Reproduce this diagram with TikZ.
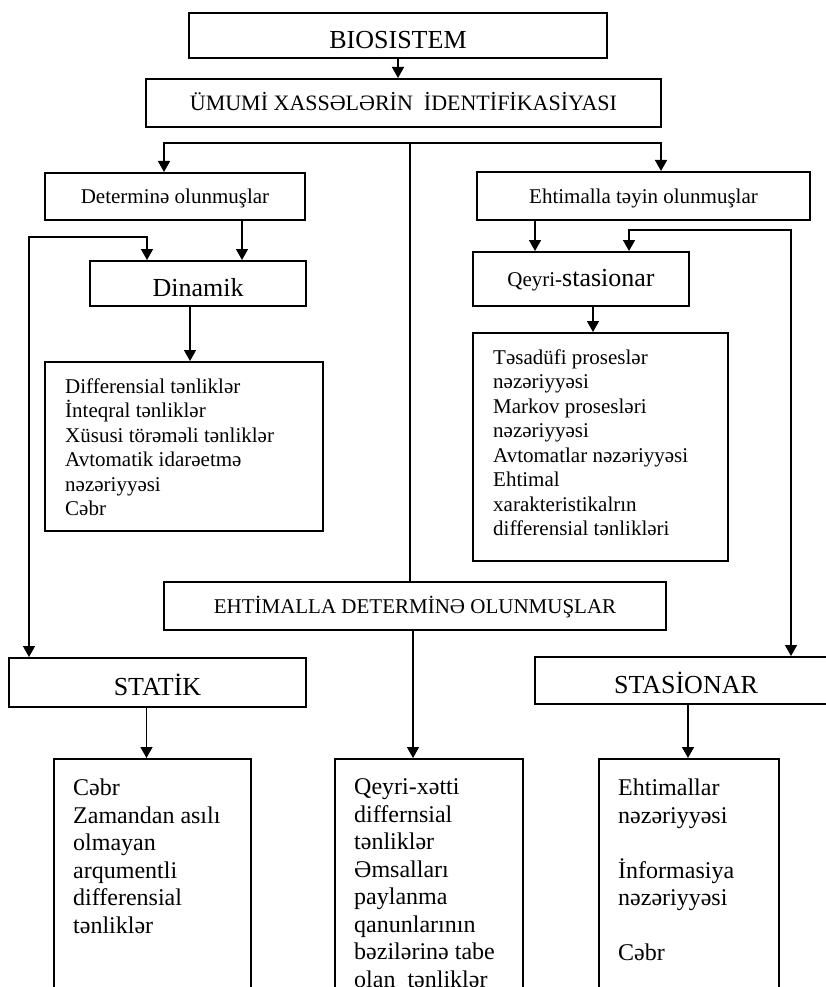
\documentclass[tikz,border=0pt]{standalone}
\usepackage{fontspec}
\setmainfont{Liberation Serif}
\usetikzlibrary{arrows.meta}

\tikzset{
  box/.style={draw, line width=2pt, inner sep=0pt},
  capbox/.style={box, font=\fontsize{26}{30}\selectfont, text height=26pt, text depth=0pt},
  smallbox/.style={box, font=\fontsize{21}{24}\selectfont, text height=17.85pt, text depth=3.15pt},
  listtext/.style={anchor=north west, inner xsep=21pt, inner ysep=17.5pt, align=left,
    font=\fontsize{21}{24.5}\selectfont, execute at begin node=\strut},
  bigtext/.style={anchor=north west, inner xsep=20pt, inner ysep=20.75pt, align=left,
    font=\fontsize{24}{27.5}\selectfont, execute at begin node=\strut},
  line/.style={line width=1.5pt},
  link/.style={line, -{Triangle[width=12pt,length=11pt]}},
  twolink/.style={line, {Triangle[width=12pt,length=11pt]}-{Triangle[width=12pt,length=11pt]}},
}

\begin{document}
\begin{tikzpicture}[x=1pt, y=-1pt]
                \useasboundingbox (0,0) rectangle (826,987);
                % Top
                \node[capbox, minimum width=418pt, minimum height=45pt] (bio) at (398,35.5) {BIOSISTEM};
                \node[smallbox, font=\fontsize{22}{25}\selectfont, minimum width=515pt, minimum height=48pt] (ident) at (403.5,103) {ÜMUMİ XASSƏLƏRİN\ \ İDENTİFİKASİYASI};
                \draw [link] (bio.south) -- (bio.south |- ident.north);
                % Two branches
                \node[smallbox, minimum width=260pt, minimum height=47pt] (determ) at (175,196.5) {Determinə olunmuşlar};
                \node[smallbox, minimum width=333pt, minimum height=48pt] (ehtim) at (643.5,196) {Ehtimalla təyin olunmuşlar};
                \coordinate (fork) at (410,143);
                \coordinate (forkl) at (164,143);
                \coordinate (forkr) at (661,143);
                \draw [link] (fork) -| (forkl |- determ.north);
                \draw [link] (fork) -| (forkr |- ehtim.north);
                % Left side
                \node[capbox, minimum width=216pt, minimum height=45pt] (dinam) at (198,283.5) {Dinamik};
                \draw [link] ([xshift=67pt]determ.south) -- ([xshift=67pt]determ.south |- dinam.north);
                \node[box, minimum width=278pt, minimum height=169pt] (dinlist) at (184,446.5) {};
                \node[listtext] (dinlisttxt) at (dinlist.north west) {Differensial tənliklər\\
                  İnteqral tənliklər\\ Xüsusi törəməli tənliklər\\ Avtomatik idarəetmə\\
                  nəzəriyyəsi\\ Cəbr};
                \draw [link] ([xshift=-8pt]dinam.south) -- ([xshift=-8pt]dinam.south |- dinlist.north);
                % Right side
                \node[smallbox, minimum width=216pt, minimum height=54pt] (qeyri) at (581,279) {Qeyri-{\fontsize{26}{30}\selectfont stasionar}};
                \draw [link] ([xshift=-108.5pt]ehtim.south) -- ([xshift=-108.5pt]ehtim.south |- qeyri.north);
                \node[box, minimum width=255pt, minimum height=228pt] (qeylist) at (600.5,447) {};
                \node[listtext] (qeylisttxt) at (qeylist.north west) {Təsadüfi proseslər\\
                  nəzəriyyəsi\\ Markov prosesləri\\ nəzəriyyəsi\\ Avtomatlar nəzəriyyəsi\\
                  Ehtimal\\ xarakteristikalrın\\ differensial tənlikləri};
                \draw [link] ([xshift=12pt]qeyri.south) -- ([xshift=12pt]qeyri.south |- qeylist.north);
                % Middle
                \node[smallbox, minimum width=502pt, minimum height=48pt] (ehtdet) at (415,606) {EHTİMALLA DETERMİNƏ OLUNMUŞLAR};
                \draw [line] (fork) -- (fork |- ehtdet.north);
                % Lower row
                \node[capbox, minimum width=297pt, minimum height=49pt] (statik) at (157.5,682.5) {STATİK};
                \node[capbox, minimum width=302pt, minimum height=47pt] (stasion) at (686,680.5) {STASİONAR};
                \coordinate (loopl) at (29,237);
                \coordinate (loopr) at (791,230);
                \draw [twolink] (loopl |- statik.north) -- (loopl) -| ([xshift=-51pt]dinam.north);
                \draw [twolink] (loopr |- stasion.north) -- (loopr) -| ([xshift=48pt]qeyri.north);
                % Bottom boxes
                \node[box, minimum width=197pt, minimum height=251pt] (statlist) at (152.5,884.5) {};
                \node[bigtext] (statlisttxt) at (statlist.north west) {Cəbr\\ Zamandan asılı\\
                  olmayan\\ arqumentli\\ differensial\\ tənliklər};
                \node[box, minimum width=188pt, minimum height=251pt] (midlist) at (429,884.5) {};
                \node[bigtext] (midlisttxt) at (midlist.north west) {Qeyri-xətti\\ differnsial\\
                  tənliklər\\ Əmsalları\\ paylanma\\ qanunlarının\\ bəzilərinə tabe\\ olan\ \ tənliklər};
                \node[box, minimum width=180pt, minimum height=251pt] (staslist) at (689,884.5) {};
                \node[bigtext] (staslisttxt) at (staslist.north west) {Ehtimallar\\ nəzəriyyəsi\\[27.5pt]
                  İnformasiya\\ nəzəriyyəsi\\[27.5pt] Cəbr};
                \draw [link] ([xshift=-11pt]statik.south) -- ([xshift=-11pt]statik.south |- statlist.north);
                \draw [link] ([xshift=-2pt]ehtdet.south) -- ([xshift=-2pt]ehtdet.south |- midlist.north);
                \draw [link] ([xshift=2pt]stasion.south) -- ([xshift=2pt]stasion.south |- staslist.north);
            \end{tikzpicture}
\end{document}
